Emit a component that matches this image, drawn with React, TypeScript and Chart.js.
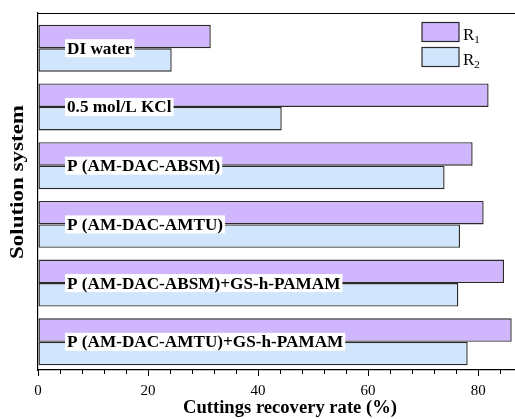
import React, { useEffect, useRef } from 'react';
import { Chart, registerables } from 'chart.js';

Chart.register(...registerables);

const categories = [
  'DI water',
  '0.5 mol/L KCl',
  'P (AM-DAC-ABSM)',
  'P (AM-DAC-AMTU)',
  'P (AM-DAC-ABSM)+GS-h-PAMAM',
  'P (AM-DAC-AMTU)+GS-h-PAMAM',
];
const r1Values = [31.4, 81.9, 79.0, 81.0, 84.7, 86.1];
const r2Values = [24.3, 44.3, 73.9, 76.7, 76.4, 78.1];
const xTickValues = [0, 20, 40, 60, 80];
const seriesNames = [
  { base: 'R', sub: '1' },
  { base: 'R', sub: '2' },
];
const xTitle = 'Cuttings recovery rate (%)';
const yTitle = 'Solution system';

const PURPLE = '#CFB6FD';
const BLUE = '#D1E6FC';
const EDGE = '#2a2a2a';
const SERIF = '"Liberation Serif", "Times New Roman", serif';

const overlayPlugin = {
  id: 'overlay',
  afterDraw(chart: any) {
    const { ctx, chartArea, scales } = chart;
    const xs = scales.x;
    const ys = scales.y;
    ctx.save();

    // top frame line
    ctx.strokeStyle = '#000';
    ctx.lineWidth = 1;
    ctx.beginPath();
    ctx.moveTo(chartArea.left, chartArea.top + 0.5);
    ctx.lineTo(chartArea.right, chartArea.top + 0.5);
    ctx.stroke();

    // minor ticks on x axis
    ctx.lineWidth = 1;
    for (let v = 0; v <= xs.max; v += 4) {
      if (v % 20 === 0) continue;
      const px = Math.round(xs.getPixelForValue(v)) + 0.5;
      ctx.beginPath();
      ctx.moveTo(px, chartArea.bottom);
      ctx.lineTo(px, chartArea.bottom + 4);
      ctx.stroke();
    }

    // category labels inside plot
    ctx.font = 'bold 17.2px ' + SERIF;
    ctx.textBaseline = 'middle';
    ctx.textAlign = 'left';
    categories.forEach((c, i) => {
      const cy = ys.getPixelForValue(i);
      const w = ctx.measureText(c).width;
      ctx.fillStyle = '#fff';
      ctx.fillRect(65, cy - 9, w + 4, 18);
      ctx.fillStyle = '#000';
      ctx.fillText(c, 67, cy + 1);
    });

    // legend
    const colors = [PURPLE, BLUE];
    seriesNames.forEach((s, i) => {
      const top = 22.5 + i * 25;
      ctx.fillStyle = colors[i];
      ctx.fillRect(422, top, 37, 19);
      ctx.strokeStyle = EDGE;
      ctx.lineWidth = 1.2;
      ctx.strokeRect(422, top, 37, 19);
      ctx.fillStyle = '#000';
      ctx.textBaseline = 'alphabetic';
      ctx.font = '17px ' + SERIF;
      ctx.fillText(s.base, 463, top + 17);
      const wb = ctx.measureText(s.base).width;
      ctx.font = '11px ' + SERIF;
      ctx.fillText(s.sub, 463 + wb, top + 20);
    });

    // axis titles
    ctx.fillStyle = '#000';
    ctx.font = 'bold 18.6px ' + SERIF;
    ctx.textAlign = 'center';
    ctx.textBaseline = 'alphabetic';
    ctx.fillText(xTitle, 290, 413);

    ctx.save();
    ctx.translate(18, 182);
    ctx.rotate(-Math.PI / 2);
    ctx.scale(1.18, 1);
    ctx.font = 'bold 19.5px ' + SERIF;
    ctx.textBaseline = 'middle';
    ctx.fillText(yTitle, 0, 0);
    ctx.restore();

    ctx.restore();
  },
};

export default function App() {
  const canvasRef = useRef<HTMLCanvasElement | null>(null);

  useEffect(() => {
    if (!canvasRef.current) return;
    const chart = new Chart(canvasRef.current, {
      type: 'bar',
      data: {
        datasets: [
          {
            label: 'R1',
            data: r1Values.map((v, i) => ({ x: v, y: i })) as any,
            backgroundColor: PURPLE,
            borderColor: EDGE,
            borderWidth: 1.4,
            borderSkipped: false,
            categoryPercentage: 0.8,
            barPercentage: 1,
          },
          {
            label: 'R2',
            data: r2Values.map((v, i) => ({ x: v, y: i })) as any,
            backgroundColor: BLUE,
            borderColor: EDGE,
            borderWidth: 1.4,
            borderSkipped: false,
            categoryPercentage: 0.8,
            barPercentage: 1,
          },
        ],
      },
      options: {
        indexAxis: 'y',
        responsive: true,
        maintainAspectRatio: false,
        animation: false,
        layout: { padding: { top: 13, left: 0, right: 0, bottom: 0 } },
        plugins: {
          legend: { display: false },
          tooltip: { enabled: false },
        },
        scales: {
          x: {
            type: 'linear',
            min: 0,
            max: 86.7,
            offset: false,
            afterFit: (scale: any) => {
              scale.height = 49;
            },
            afterBuildTicks: (scale: any) => {
              scale.ticks = xTickValues.map((v) => ({ value: v }));
            },
            ticks: {
              color: '#000',
              font: { family: SERIF, size: 15 },
              padding: 6,
              maxRotation: 0,
            },
            grid: {
              drawOnChartArea: false,
              drawTicks: true,
              tickLength: 6,
              tickColor: '#000',
              tickWidth: 1,
            },
            border: { display: true, color: '#000', width: 1.2 },
          },
          y: {
            type: 'linear',
            min: -0.6,
            max: 5.48,
            reverse: true,
            offset: false,
            afterFit: (scale: any) => {
              scale.width = 38;
            },
            afterBuildTicks: (scale: any) => {
              scale.ticks = categories.map((_, i) => ({ value: i }));
            },
            ticks: { display: false },
            grid: { display: false, drawTicks: false },
            border: { display: true, color: '#000', width: 1.2 },
          },
        },
      },
      plugins: [overlayPlugin],
    });
    return () => chart.destroy();
  }, []);

  return (
    <div style={{ position: 'fixed', left: 0, top: 0, width: 515, height: 419, background: '#fff' }}>
      <canvas ref={canvasRef} />
    </div>
  );
}
